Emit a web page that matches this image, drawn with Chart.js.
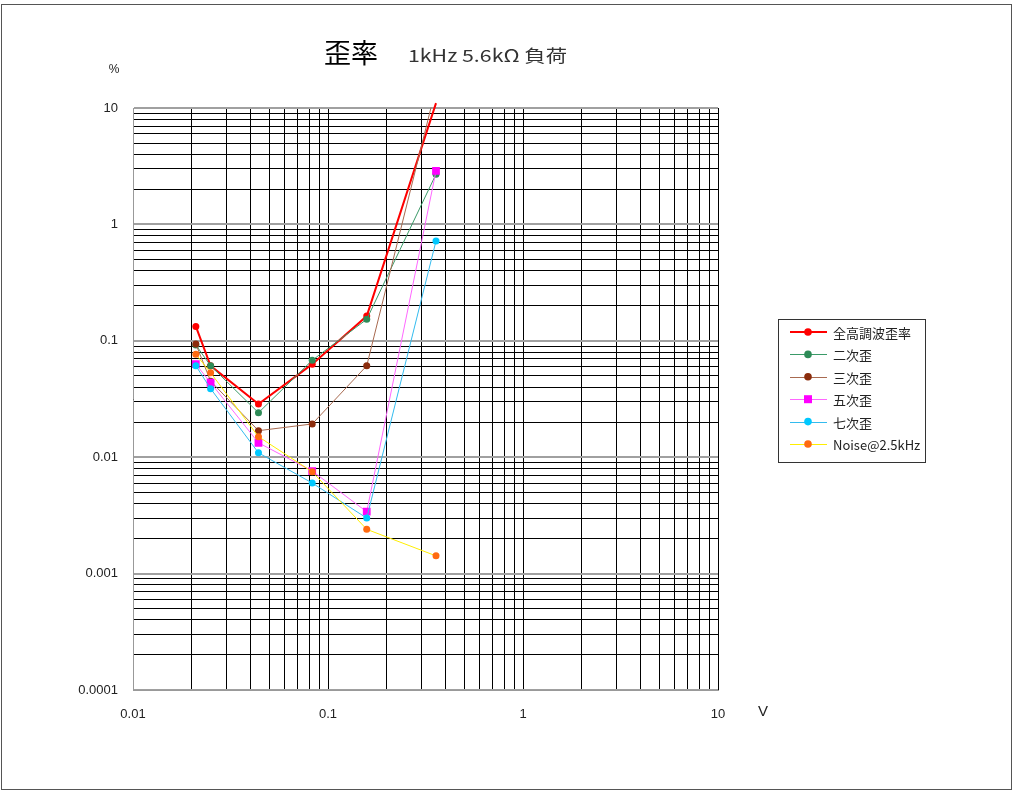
<!DOCTYPE html>
<html>
<head>
<meta charset="utf-8">
<script src="https://cdn.jsdelivr.net/npm/chart.js@4.4.0/dist/chart.umd.min.js"></script>
<style>
html,body{margin:0;padding:0;background:#fff;}
#wrap{position:relative;width:1024px;height:799px;}
canvas{display:block;}
</style>
</head>
<body>
<div id="wrap"><canvas id="c" width="1024" height="799"></canvas></div>
<script>
// ---- data ----
const voltages = [0.021, 0.025, 0.044, 0.083, 0.158, 0.358];
const seriesNames = ['全高調波歪率', '二次歪', '三次歪', '五次歪', '七次歪', 'Noise@2.5kHz'];
const thd    = [0.133, 0.061, 0.0286, 0.063, 0.163, 11];
const h2     = [0.092, 0.061, 0.0241, 0.068, 0.153, 2.7];
const h3     = [0.094, 0.045, 0.0169, 0.0193, 0.061, 15];
const h5     = [0.063, 0.0436, 0.0133, 0.0076, 0.0034, 2.88];
const h7     = [0.061, 0.0388, 0.0109, 0.0060, 0.0030, 0.72];
const noise  = [0.0766, 0.0532, 0.0150, 0.0075, 0.0024, 0.00142];
const yTickLabels = {'10':'10','1':'1','0.1':'0.1','0.01':'0.01','0.001':'0.001','0.0001':'0.0001'};
const xTickLabels = {'0.01':'0.01','0.1':'0.1','1':'1','10':'10'};
const titleMain = '歪率';
const titleSub = '1kHz 5.6kΩ 負荷';
const yUnit = '%';
const xUnit = 'V';

// ---- styles ----
const styles = [
  {line:'#ff0000', point:'#ff0000', shape:'circle', r:3.5, w:2},
  {line:'#3a9a68', point:'#2e8b57', shape:'circle', r:3.5, w:1},
  {line:'#a86a50', point:'#8b2c0c', shape:'circle', r:3.5, w:1},
  {line:'#ff66ff', point:'#ff00ff', shape:'rect',   r:5.5, w:1},
  {line:'#33bbee', point:'#00c8ff', shape:'circle', r:3.5, w:1},
  {line:'#ffee00', point:'#ff6a10', shape:'circle', r:3.5, w:1}
];
const allSeries = [thd, h2, h3, h5, h7, noise];

function makeTicks(e0, e1){
  const t = [];
  for (let e = e0; e < e1; e++) {
    for (let m = 1; m <= 9; m++) {
      t.push({value: parseFloat((m * Math.pow(10, e)).toPrecision(6)), major: m === 1});
    }
  }
  t.push({value: Math.pow(10, e1), major: true});
  return t;
}

const datasets = allSeries.map((arr, i) => ({
  label: seriesNames[i],
  data: voltages.map((v, j) => ({x: v, y: arr[j]})),
  borderColor: styles[i].line,
  backgroundColor: styles[i].point,
  pointBackgroundColor: styles[i].point,
  pointBorderColor: styles[i].point,
  pointBorderWidth: 0,
  pointStyle: styles[i].shape,
  pointRadius: ctx => (ctx.raw && ctx.raw.y > 10) ? 0 : styles[i].r,
  borderWidth: styles[i].w,
  tension: 0,
  order: 10 - i,
  clip: i === 0 ? {left: 2, top: 7, right: 2, bottom: 2} : 0.5
}));

const deco = {
  id: 'deco',
  afterDraw(chart) {
    const c = chart.ctx;
    c.save();
    // outer border
    c.strokeStyle = '#555';
    c.lineWidth = 1;
    c.strokeRect(1.5, 4.5, 1010, 785);
    // title
    c.fillStyle = '#000';
    c.textBaseline = 'middle';
    c.textAlign = 'left';
    c.font = '27px "Noto Sans CJK JP"';
    c.fillText(titleMain, 324, 53);
    c.fillStyle = '#333';
    c.font = '17px "Noto Sans CJK JP"';
    const wSub = c.measureText(titleSub).width;
    c.save();
    c.translate(408, 56);
    c.scale(159 / wSub, 1);
    c.fillText(titleSub, 0, 0);
    c.restore();
    // units
    c.fillStyle = '#222';
    c.font = '12px "Liberation Sans"';
    c.textAlign = 'center';
    c.fillText(yUnit, 114, 70);
    c.font = '15px "Liberation Sans"';
    c.fillText(xUnit, 763, 712);
    // legend
    const lx = 778, ly = 319, lw = 147, lh = 143;
    c.fillStyle = '#fff';
    c.fillRect(lx, ly, lw, lh);
    c.strokeStyle = '#333';
    c.lineWidth = 1;
    c.strokeRect(lx + 0.5, ly + 0.5, lw, lh);
    c.textAlign = 'left';
    c.font = '13px "Noto Sans CJK JP"';
    chart.data.datasets.forEach((ds, i) => {
      const y = 332 + i * 22.4;
      const st = styles[i];
      c.strokeStyle = st.line;
      c.lineWidth = st.w;
      c.beginPath();
      c.moveTo(790, Math.round(y) + (st.w === 1 ? 0.5 : 0));
      c.lineTo(827, Math.round(y) + (st.w === 1 ? 0.5 : 0));
      c.stroke();
      c.fillStyle = st.point;
      if (st.shape === 'rect') {
        c.fillRect(804, y - 4, 8, 8);
      } else {
        c.beginPath();
        c.arc(808, y, 3.8, 0, Math.PI * 2);
        c.fill();
      }
      c.fillStyle = '#222';
      c.fillText(ds.label, 833, y + 1);
    });
    c.restore();
  }
};

new Chart(document.getElementById('c'), {
  type: 'line',
  data: {datasets},
  plugins: [deco],
  options: {
    responsive: false,
    animation: false,
    devicePixelRatio: 1,
    layout: {padding: {left: 53, top: 108, right: 306, bottom: 69}},
    plugins: {legend: {display: false}, tooltip: {enabled: false}, title: {display: false}},
    scales: {
      x: {
        type: 'logarithmic', min: 0.01, max: 10,
        afterBuildTicks: s => { s.ticks = makeTicks(-2, 1); },
        afterFit: s => { s.height = 40; },
        ticks: {
          autoSkip: false, maxRotation: 0, padding: 17, color: '#222',
          font: {family: 'Liberation Sans', size: 13},
          callback: v => xTickLabels[String(v)] || ''
        },
        grid: {color: '#000', lineWidth: 1, drawTicks: false},
        border: {color: '#999', width: 1}
      },
      y: {
        type: 'logarithmic', min: 0.0001, max: 10,
        afterBuildTicks: s => { s.ticks = makeTicks(-4, 1); },
        afterFit: s => { s.width = 80; },
        ticks: {
          autoSkip: false, padding: 15, color: '#222',
          font: {family: 'Liberation Sans', size: 13},
          callback: v => yTickLabels[String(v)] || ''
        },
        grid: {
          color: ctx => (ctx.tick && ctx.tick.major) ? '#a0a0a0' : '#000',
          lineWidth: ctx => (ctx.tick && ctx.tick.major) ? 2 : 1,
          drawTicks: false
        },
        border: {color: '#999', width: 1}
      }
    }
  }
});
</script>
</body>
</html>
